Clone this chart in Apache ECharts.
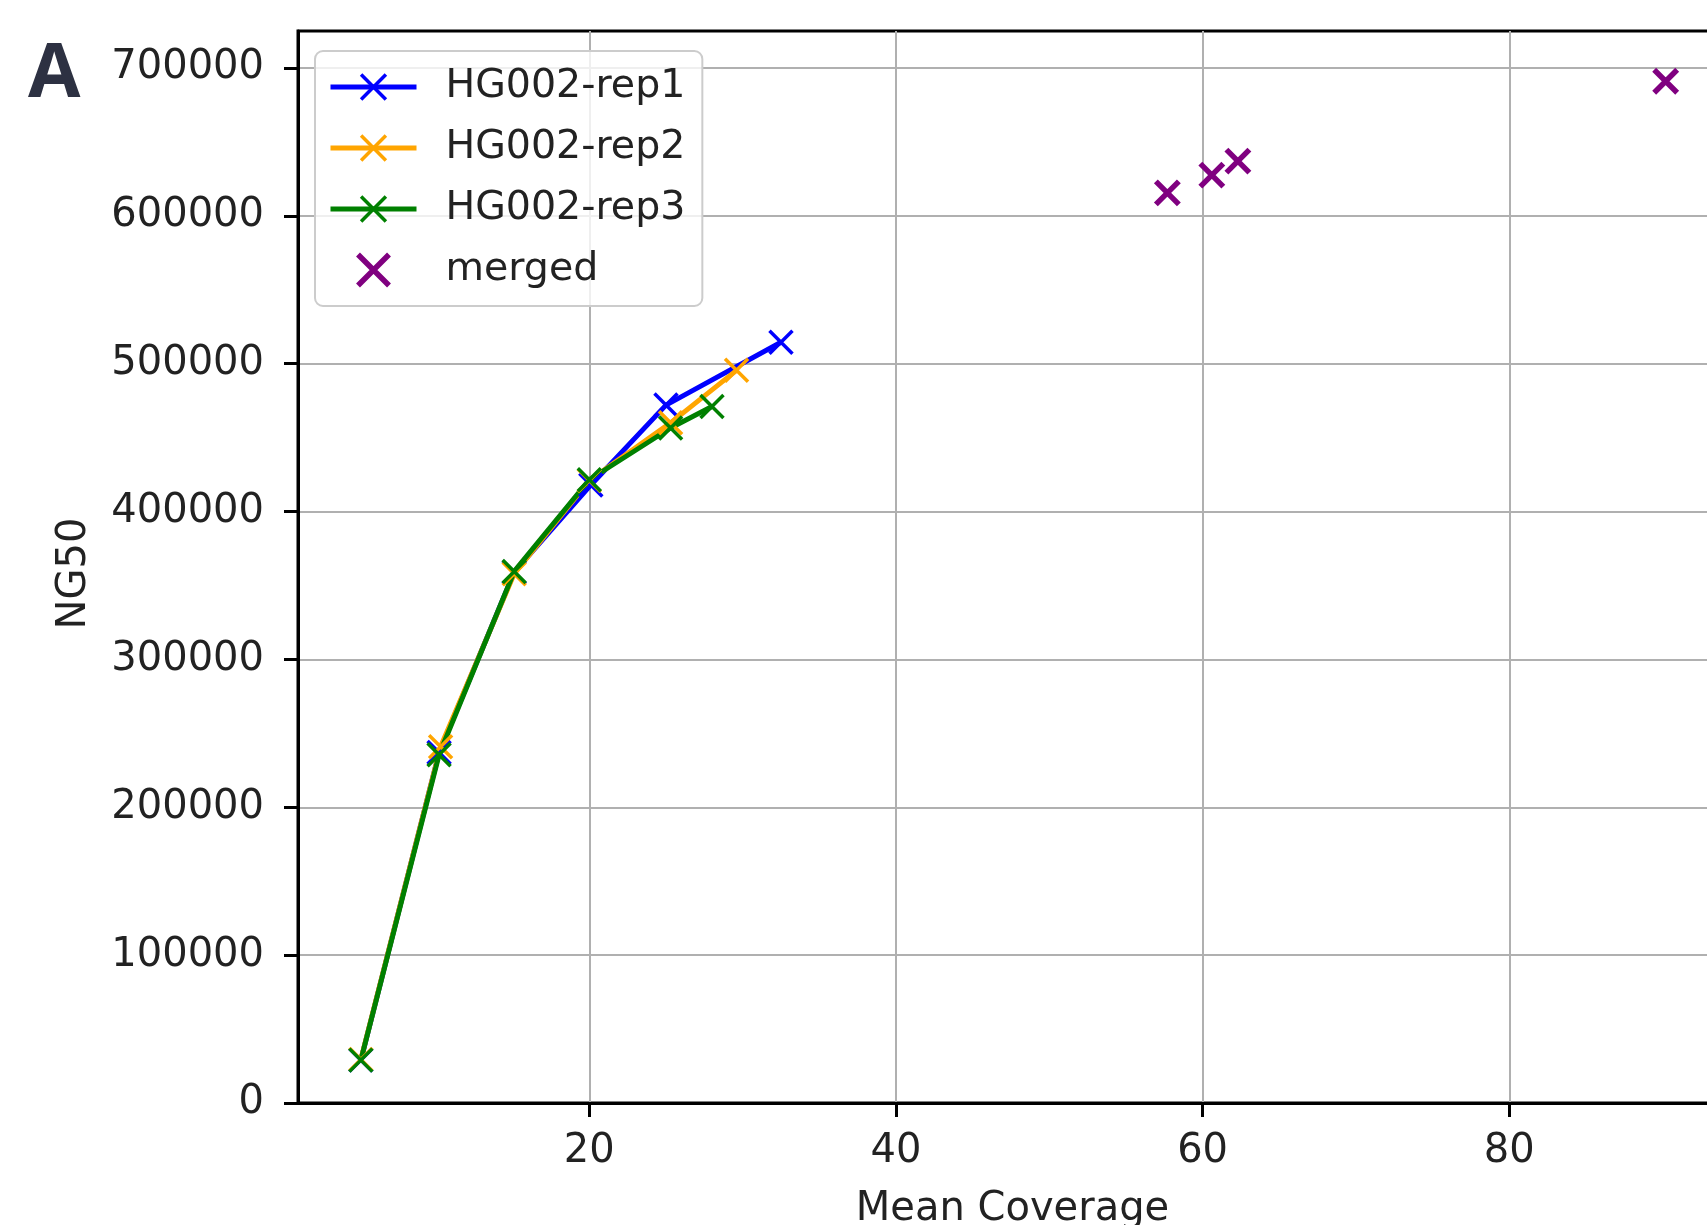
<!DOCTYPE html>
<html>
<head>
<meta charset="utf-8">
<script src="https://cdn.jsdelivr.net/npm/echarts@6/dist/echarts.min.js"></script>
<style>
  html, body { margin: 0; padding: 0; background: #fff; }
  #chart { width: 1707px; height: 1225px; }
</style>
</head>
<body>
<div id="chart"></div>
<script>
// ---- data ----
const rep1X = [5.1, 10.2, 15.1, 20.1, 25.0, 32.5];
const rep1Y = [29000, 237000, 359000, 418000, 472000, 514500];
const rep2X = [5.1, 10.3, 15.1, 20.0, 25.3, 29.6];
const rep2Y = [29500, 241000, 358000, 421000, 460000, 495500];
const rep3X = [5.1, 10.2, 15.1, 20.0, 25.3, 28.0];
const rep3Y = [29000, 235500, 359500, 421500, 456500, 471000];
const mergedX = [57.7, 60.6, 62.3, 90.2];
const mergedY = [615500, 627500, 637000, 691000];
const xTicks = [20, 40, 60, 80];
const yTicks = [0, 100000, 200000, 300000, 400000, 500000, 600000, 700000];
const seriesNames = ['HG002-rep1', 'HG002-rep2', 'HG002-rep3', 'merged'];
const seriesColors = ['#0000ff', '#ffa500', '#008000', '#800080'];

const X_PATH = 'path://M0,0L10,10M10,0L0,10';
const FONT = 'DejaVu Sans';
const FS = 40;
const LINE_W = 5;
const MARK_W = 3.5;
const SCAT_W = 5.5;

function zip(xs, ys) { return xs.map((x, i) => [x, ys[i]]); }

function lineSeries(name, color, xs, ys) {
  return {
    name: name,
    type: 'line',
    data: zip(xs, ys),
    symbol: X_PATH,
    symbolSize: 23,
    showSymbol: true,
    symbolKeepAspect: true,
    lineStyle: { color: color, width: LINE_W },
    itemStyle: { color: color, borderColor: color, borderWidth: MARK_W },
    emphasis: { disabled: true },
    z: 3
  };
}

const legendData = seriesNames.map((n, i) => ({
  name: n,
  itemStyle: { borderWidth: i < 3 ? MARK_W : SCAT_W, borderColor: seriesColors[i] },
  lineStyle: { width: LINE_W }
}));

const chart = echarts.init(document.getElementById('chart'), null, { renderer: 'canvas' });
const option = {
  animation: false,
  backgroundColor: '#ffffff',
  title: {
    text: 'A',
    left: 28,
    top: 37,
    padding: 0,
    textStyle: { fontFamily: 'Open Sans', fontWeight: 'bold', fontSize: 76, color: '#2d3142' }
  },
  legend: {
    orient: 'vertical',
    left: 315,
    top: 51,
    padding: [16, 17, 16, 13],
    itemWidth: 86,
    itemHeight: 31,
    itemGap: 21,
    backgroundColor: 'rgba(255,255,255,0.8)',
    borderColor: '#cccccc',
    borderWidth: 2,
    borderRadius: 8,
    data: legendData,
    lineStyle: { width: LINE_W },
    textStyle: { fontFamily: FONT, fontSize: 39.5, color: '#222', padding: [0, 0, 0, 24] }
  },
  grid: {
    left: 298,
    top: 31,
    width: 1429,
    bottom: 122,
    show: true,
    borderColor: '#000',
    borderWidth: 3,
    containLabel: false,
    outerBoundsMode: 'none'
  },
  xAxis: {
    type: 'value',
    min: 1,
    max: 94.2,
    name: 'Mean Coverage',
    nameLocation: 'middle',
    nameGap: 87,
    nameTextStyle: { fontFamily: FONT, fontSize: FS, color: '#222' },
    axisLine: { show: true, lineStyle: { color: '#000', width: 3 } },
    axisTick: { show: true, length: 14, lineStyle: { color: '#000', width: 3 }, customValues: xTicks },
    axisLabel: { fontFamily: FONT, fontSize: FS, color: '#222', margin: 29, customValues: xTicks },
    splitLine: { show: true, lineStyle: { color: '#b0b0b0', width: 2 } }
  },
  yAxis: {
    type: 'value',
    min: 0,
    max: 725000,
    name: 'NG50',
    nameLocation: 'middle',
    nameGap: 203,
    nameTextStyle: { fontFamily: FONT, fontSize: FS, color: '#222', padding: [0, 13, 0, 0] },
    axisLine: { show: true, lineStyle: { color: '#000', width: 3 } },
    axisTick: { show: true, length: 14, lineStyle: { color: '#000', width: 3 }, customValues: yTicks },
    axisLabel: {
      fontFamily: FONT, fontSize: FS, color: '#222', margin: 34, customValues: yTicks,
      padding: [16, 0, 0, 0],
      formatter: v => String(v)
    },
    splitLine: { show: true, lineStyle: { color: '#b0b0b0', width: 2 } }
  },
  series: [
    lineSeries(seriesNames[0], seriesColors[0], rep1X, rep1Y),
    lineSeries(seriesNames[1], seriesColors[1], rep2X, rep2Y),
    lineSeries(seriesNames[2], seriesColors[2], rep3X, rep3Y),
    {
      name: seriesNames[3],
      type: 'scatter',
      data: zip(mergedX, mergedY),
      symbol: X_PATH,
      symbolSize: 23,
      symbolKeepAspect: true,
      itemStyle: { color: seriesColors[3], borderColor: seriesColors[3], borderWidth: SCAT_W, opacity: 1 },
      emphasis: { disabled: true },
      z: 3
    }
  ]
};
chart.setOption(option);
</script>
</body>
</html>
